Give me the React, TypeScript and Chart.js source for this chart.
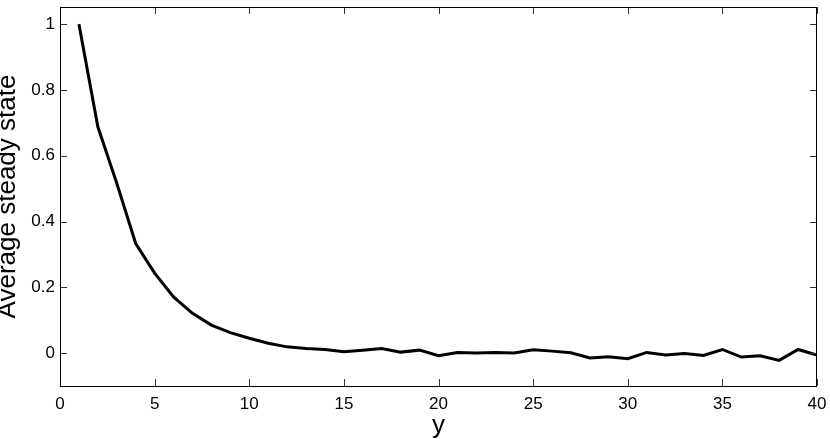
import React, { useEffect, useRef } from "react";
import { Chart, registerables } from "chart.js";

Chart.register(...registerables);

const xValues = [1,2,3,4,5,6,7,8,9,10,11,12,13,14,15,16,17,18,19,20,21,22,23,24,25,26,27,28,29,30,31,32,33,34,35,36,37,38,39,40];
const steadyState = [1.0,0.688,0.516,0.333,0.243,0.171,0.121,0.085,0.062,0.045,0.030,0.019,0.014,0.011,0.004,0.009,0.014,0.003,0.009,-0.008,0.002,0.0,0.002,0.0,0.010,0.006,0.001,-0.015,-0.011,-0.017,0.002,-0.006,-0.001,-0.007,0.011,-0.012,-0.008,-0.022,0.011,-0.006];
const xTicks = [0,5,10,15,20,25,30,35,40];
const yTicks = [0,0.2,0.4,0.6,0.8,1];
const xTitle = "y";
const yTitle = "Average steady state";

const FONT = "'Liberation Sans', Arial, Helvetica, sans-serif";

const framePlugin = {
  id: "frameTicks",
  afterDraw(chart: any) {
    const { ctx, chartArea } = chart;
    const { left, right, top, bottom } = chartArea;
    const xs = chart.scales.x;
    const ys = chart.scales.y;
    const len = 7;
    ctx.save();
    ctx.strokeStyle = "#333";
    ctx.lineWidth = 1;
    ctx.beginPath();
    xTicks.forEach((v) => {
      const px = Math.round(xs.getPixelForValue(v)) + 0.5;
      ctx.moveTo(px, bottom);
      ctx.lineTo(px, bottom - len);
      ctx.moveTo(px, top);
      ctx.lineTo(px, top + len);
    });
    yTicks.forEach((v) => {
      const py = Math.round(ys.getPixelForValue(v)) + 0.5;
      ctx.moveTo(left, py);
      ctx.lineTo(left + len, py);
      ctx.moveTo(right, py);
      ctx.lineTo(right - len, py);
    });
    ctx.stroke();
    ctx.strokeStyle = "#000";
    ctx.strokeRect(Math.round(left) + 0.5, Math.round(top) + 0.5, Math.round(right - left) - 1, Math.round(bottom - top));
    ctx.restore();
  },
};

export default function App() {
  const ref = useRef<HTMLCanvasElement | null>(null);
  useEffect(() => {
    document.body.style.margin = "0";
    const canvas = ref.current;
    if (!canvas) return;
    const chart = new Chart(canvas, {
      type: "line",
      data: {
        datasets: [
          {
            data: xValues.map((x, i) => ({ x, y: steadyState[i] })),
            borderColor: "#000",
            borderWidth: 3,
            pointRadius: 0,
            tension: 0,
            fill: false,
          },
        ],
      },
      options: {
        responsive: false,
        animation: false,
        events: [],
        layout: { padding: { left: 0, top: 7, right: 13, bottom: 0 } },
        plugins: { legend: { display: false }, tooltip: { enabled: false } },
        scales: {
          x: {
            type: "linear",
            min: 0,
            max: 40,
            afterBuildTicks: (s: any) => {
              s.ticks = xTicks.map((v) => ({ value: v }));
            },
            afterFit: (s: any) => {
              s.height = 53;
              s.paddingLeft = 0;
              s.paddingRight = 0;
            },
            grid: { display: false, drawTicks: false },
            border: { display: false },
            ticks: {
              color: "#000",
              font: { family: FONT, size: 17 },
              padding: 8,
              maxRotation: 0,
              autoSkip: false,
              callback: (v: any) => String(v),
            },
            title: {
              display: true,
              text: xTitle,
              color: "#000",
              font: { family: FONT, size: 26, lineHeight: 0.64 },
              padding: { top: 0, bottom: 5 },
            },
          },
          y: {
            type: "linear",
            min: -0.1,
            max: 1.052,
            afterBuildTicks: (s: any) => {
              s.ticks = yTicks.map((v) => ({ value: v }));
            },
            afterFit: (s: any) => {
              s.width = 60;
              s.paddingTop = 0;
              s.paddingBottom = 0;
            },
            grid: { display: false, drawTicks: false },
            border: { display: false },
            ticks: {
              color: "#000",
              font: { family: FONT, size: 17 },
              padding: 5,
              autoSkip: false,
              callback: (v: any) => String(v),
            },
            title: {
              display: true,
              text: yTitle,
              color: "#000",
              font: { family: FONT, size: 26, lineHeight: 0.64 },
              padding: { top: 0, bottom: 0 },
            },
          },
        },
      },
      plugins: [framePlugin],
    });
    return () => chart.destroy();
  }, []);
  return (
    <div style={{ position: "absolute", left: 0, top: 0, width: 830, height: 439, background: "#fff" }}>
      <canvas ref={ref} width={830} height={439} style={{ display: "block" }} />
    </div>
  );
}
